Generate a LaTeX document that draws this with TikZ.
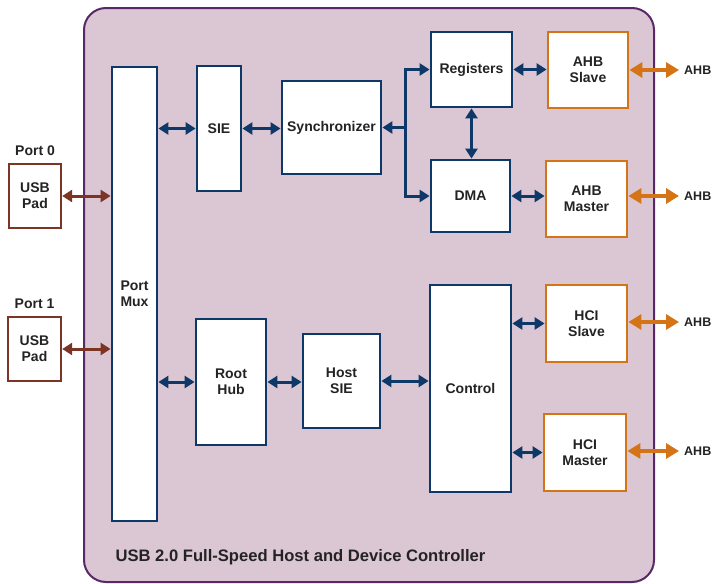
\documentclass[tikz,border=0pt]{standalone}
\usepackage{fontspec}
\setmainfont{Liberation Sans}
\usetikzlibrary{arrows.meta,positioning}

\definecolor{navy}{RGB}{14,56,104}
\definecolor{amber}{RGB}{212,116,22}
\definecolor{rust}{RGB}{124,52,36}
\definecolor{plum}{RGB}{88,40,104}
\definecolor{mauve}{RGB}{219,198,211}
\definecolor{ink}{RGB}{35,35,35}

\tikzset{
	blk/.style={draw=navy, line width=2.8pt, fill=white, align=center, inner sep=0pt,
		text=ink, font=\fontsize{14}{16}\selectfont\bfseries},
	ioblk/.style={blk, draw=amber},
	padblk/.style={blk, draw=rust, line width=2.4pt},
	lbl/.style={text=ink, font=\fontsize{14}{16}\selectfont\bfseries},
	buslbl/.style={lbl, inner sep=0pt, anchor=west, font=\fontsize{12.5}{15}\selectfont\bfseries},
	bus/.style={navy, line width=3pt, {Triangle[length=10pt,width=12pt]}-{Triangle[length=10pt,width=12pt]}},
	pinbus/.style={rust, line width=3pt, {Triangle[length=10pt,width=12pt]}-{Triangle[length=10pt,width=12pt]}},
	extbus/.style={amber, line width=3.6pt, {Triangle[length=13pt,width=15pt]}-{Triangle[length=13pt,width=15pt]}}
}

\begin{document}
\begin{tikzpicture}[x=1pt, y=-1pt]
	\useasboundingbox (0,0) rectangle (713,584);

	% Controller outline
	\draw[plum, fill=mauve, line width=2pt, rounded corners=22pt] (84,8) rectangle (654,582);
	\node [lbl, anchor=west, font=\fontsize{16.6}{19}\selectfont\bfseries] (title) at (112,557) {USB 2.0 Full-Speed Host and Device Controller};

	% Pads outside the controller
	\node [padblk, minimum width=52, minimum height=64] (pad0) at (35,196) {USB\\Pad};
	\node [lbl, above=4pt of pad0] (port0) {Port 0};
	\node [padblk, minimum width=53, minimum height=64] (pad1) at (34.5,349) {USB\\Pad};
	\node [lbl, above=4pt of pad1] (port1) {Port 1};

	% Device side
	\node [blk, minimum width=45, minimum height=454] (mux) at (134.5,294) {Port\\Mux};
	\node [blk, minimum width=44, minimum height=125] (sie) at (219,128.5) {SIE};
	\node [blk, minimum width=99, minimum height=93] (sync) at (331.5,127.5) {Synchronizer};
	\node [blk, minimum width=81, minimum height=75] (reg) at (471.5,69.5) {Registers};
	\node [blk, minimum width=79, minimum height=72] (dma) at (470.5,196) {DMA};
	\node [ioblk, minimum width=80, minimum height=76] (ahbs) at (588,70) {AHB\\Slave};
	\node [ioblk, minimum width=81, minimum height=76] (ahbm) at (586.5,199) {AHB\\Master};

	% Host side
	\node [blk, minimum width=70, minimum height=126] (hub) at (231,382) {Root\\Hub};
	\node [blk, minimum width=77, minimum height=94] (hsie) at (341.5,381) {Host\\SIE};
	\node [blk, minimum width=81, minimum height=207] (ctrl) at (470.5,388.5) {Control};
	\node [ioblk, minimum width=81, minimum height=77] (hcis) at (586.5,323.5) {HCI\\Slave};
	\node [ioblk, minimum width=82, minimum height=77] (hcim) at (585,452.5) {HCI\\Master};

	% Pads to Port Mux
	\draw [pinbus] (pad0.east) -- (pad0.east -| mux.west);
	\draw [pinbus] (pad1.east) -- (pad1.east -| mux.west);

	% Device data path
	\draw [bus] (mux.east |- sie.west) -- (sie.west);
	\draw [bus] (sie.east) -- (sie.east -| sync.west);
	\coordinate (split) at (405,127.5);
	\draw [navy, line width=3pt, {Triangle[length=10pt,width=12pt]}-] (sync.east) -- (split);
	\draw [navy, line width=3pt, -{Triangle[length=10pt,width=12pt]}] (split) |- (reg.west);
	\draw [navy, line width=3pt, -{Triangle[length=10pt,width=12pt]}] (split) |- (dma.west);
	\draw [bus] (reg.south) -- (reg.south |- dma.north);
	\draw [bus] (reg.east) -- (reg.east -| ahbs.west);
	\draw [bus] (dma.east) -- (dma.east -| ahbm.west);

	% Host data path
	\draw [bus] (mux.east |- hub.west) -- (hub.west);
	\draw [bus] (hub.east) -- (hub.east -| hsie.west);
	\draw [bus] (hsie.east) -- (hsie.east -| ctrl.west);
	\draw [bus] (ctrl.east |- hcis.west) -- (hcis.west);
	\draw [bus] (ctrl.east |- hcim.west) -- (hcim.west);

	% System bus connections
	\coordinate (ahbsout) at (679,70);
	\coordinate (ahbmout) at (679,196);
	\coordinate (hcisout) at (679,322);
	\coordinate (hcimout) at (679,451);
	\draw [extbus] (ahbs.east |- ahbsout) -- (ahbsout);
	\draw [extbus] (ahbm.east |- ahbmout) -- (ahbmout);
	\draw [extbus] (hcis.east |- hcisout) -- (hcisout);
	\draw [extbus] (hcim.east |- hcimout) -- (hcimout);
	\node [buslbl, right=5pt of ahbsout] (bus0) {AHB};
	\node [buslbl, right=5pt of ahbmout] (bus1) {AHB};
	\node [buslbl, right=5pt of hcisout] (bus2) {AHB};
	\node [buslbl, right=5pt of hcimout] (bus3) {AHB};
\end{tikzpicture}
\end{document}
